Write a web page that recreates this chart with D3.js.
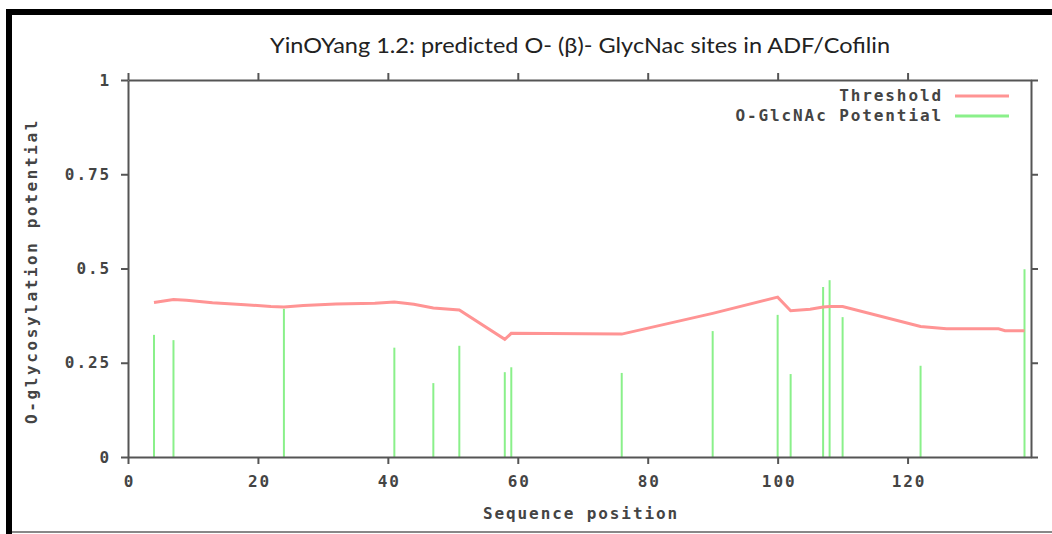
<!DOCTYPE html>
<html>
<head>
<meta charset="utf-8">
<script src="https://cdn.jsdelivr.net/npm/d3@7"></script>
<style>
  body { margin: 0; background: #fff; }
  .mono text, text.mono { font-family: "DejaVu Sans Mono", monospace; font-size: 16px; font-weight: bold; letter-spacing: 1.9px; fill: #444; }
</style>
</head>
<body>
<div id="chart"></div>
<script>
// chart size
var svgWidth = 1052;
var svgHeight = 534;

// plot box in pixels
var plot = { left: 128, right: 1031, top: 80, bottom: 457 };

// O-GlcNAc potential per S/T site
var sitePos = [4, 7, 24, 41, 47, 51, 58, 59, 76, 90, 100, 102, 107, 108, 110, 122, 138];
var siteVal = [0.324, 0.310, 0.393, 0.290, 0.196, 0.295, 0.225, 0.238, 0.223, 0.334, 0.377, 0.220, 0.451, 0.469, 0.371, 0.242, 0.498];

// threshold curve
var thrPos = [4, 7, 9, 13, 18, 22, 24, 27, 32, 38, 41, 44, 47, 51, 58, 59, 76, 90, 100, 102, 105, 107, 108, 110, 122, 126, 134, 135, 138];
var thrVal = [0.410, 0.418, 0.416, 0.409, 0.404, 0.399, 0.398, 0.402, 0.406, 0.408, 0.411, 0.405, 0.395, 0.390, 0.312, 0.328, 0.326, 0.381, 0.424, 0.388, 0.392, 0.398, 0.399, 0.399, 0.346, 0.340, 0.340, 0.335, 0.335];

// ticks
var xTicks = [0, 20, 40, 60, 80, 100, 120];
var yTicks = [0, 0.25, 0.5, 0.75, 1];
var yTickLabels = ["0", "0.25", "0.5", "0.75", "1"];

var titleText = "YinOYang 1.2: predicted O- (\u03B2)- GlycNac sites in ADF/Cofilin";
var legendLabels = ["Threshold", "O-GlcNAc Potential"];
var lineColor = "#ff9494";
var barColor = "#8af08a";
var axisColor = "#555";

var svg = d3.select("#chart")
  .append("svg")
  .attr("width", svgWidth)
  .attr("height", svgHeight);

// screenshot frame
svg.append("rect").attr("x", 6).attr("y", 9).attr("width", svgWidth - 6).attr("height", 6).attr("fill", "#000");
svg.append("rect").attr("x", 6).attr("y", 9).attr("width", 6).attr("height", svgHeight - 9).attr("fill", "#000");
svg.append("rect").attr("x", 12).attr("y", 531).attr("width", svgWidth - 12).attr("height", 2).attr("fill", "#888");

var xScale = d3.scaleLinear().domain([0, 139]).range([plot.left, plot.right]);
var yScale = d3.scaleLinear().domain([0, 1]).range([plot.bottom, plot.top]);

// bars
svg.append("g").selectAll("line")
  .data(sitePos)
  .enter()
  .append("line")
  .attr("x1", d => xScale(d))
  .attr("x2", d => xScale(d))
  .attr("y1", yScale(0))
  .attr("y2", (d, i) => yScale(siteVal[i]))
  .attr("stroke", barColor)
  .attr("stroke-width", 2);

// threshold
var thrLine = d3.line()
  .x(d => xScale(d[0]))
  .y(d => yScale(d[1]));

svg.append("path")
  .datum(thrPos.map((p, i) => [p, thrVal[i]]))
  .attr("d", thrLine)
  .attr("fill", "none")
  .attr("stroke", lineColor)
  .attr("stroke-width", 3);

// axes
function styleAxis(g) {
  g.selectAll("path, line").attr("stroke", axisColor).attr("stroke-width", 2);
}

svg.append("g")
  .attr("class", "mono")
  .attr("transform", `translate(0, ${plot.bottom})`)
  .call(d3.axisBottom(xScale).tickValues(xTicks).tickSize(7).tickSizeOuter(0).tickPadding(12))
  .call(styleAxis)
  .call(g => g.selectAll("text").attr("dx", "1"));

svg.append("g")
  .attr("transform", `translate(0, ${plot.top})`)
  .call(d3.axisTop(xScale).tickValues(xTicks).tickSize(7).tickSizeOuter(0).tickFormat(""))
  .call(styleAxis);

svg.append("g")
  .attr("class", "mono")
  .attr("transform", `translate(${plot.left}, 0)`)
  .call(d3.axisLeft(yScale).tickValues(yTicks).tickSize(7).tickSizeOuter(0).tickPadding(10)
    .tickFormat((d, i) => yTickLabels[i]))
  .call(styleAxis);

svg.append("g")
  .attr("transform", `translate(${plot.right}, 0)`)
  .call(d3.axisRight(yScale).tickValues(yTicks).tickSize(7).tickSizeOuter(0).tickFormat(""))
  .call(styleAxis);

svg.selectAll(".domain").attr("fill", "none");

// title
svg.append("text")
  .attr("x", 580)
  .attr("y", 53)
  .attr("text-anchor", "middle")
  .attr("textLength", 620)
  .attr("lengthAdjust", "spacingAndGlyphs")
  .style("font-family", "Lato, 'Open Sans', sans-serif")
  .style("font-size", "22px")
  .style("fill", "#222")
  .text(titleText);

// axis labels
svg.append("text")
  .attr("class", "mono")
  .attr("x", 580 + 1)
  .attr("y", 519)
  .attr("text-anchor", "middle")
  .text("Sequence position");

svg.append("text")
  .attr("class", "mono")
  .attr("transform", "translate(37, 271) rotate(-90)")
  .attr("text-anchor", "middle")
  .style("letter-spacing", "2.6px")
  .text("O-glycosylation potential");

// legend
var legend = svg.append("g").attr("class", "mono");
legendLabels.forEach(function(label, i) {
  var y = 96 + i * 20;
  legend.append("text")
    .attr("x", 943)
    .attr("y", y + 5)
    .attr("text-anchor", "end")
    .text(label);
  legend.append("line")
    .attr("x1", 955)
    .attr("x2", 1009)
    .attr("y1", y)
    .attr("y2", y)
    .attr("stroke", i === 0 ? lineColor : barColor)
    .attr("stroke-width", 3);
});
</script>
</body>
</html>
